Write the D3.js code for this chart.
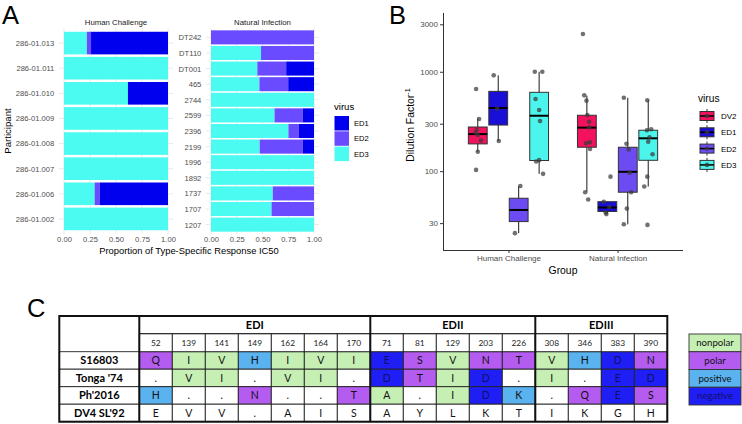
<!DOCTYPE html>
<html>
<head>
<meta charset="utf-8">
<script src="https://cdn.jsdelivr.net/npm/d3@7"></script>
<style>
body { margin: 0; background: #fff; }
text { font-family: "Liberation Sans", Arial, sans-serif; }
.tbl text { font-family: Lato, "Liberation Sans", sans-serif; }
</style>
</head>
<body>
<svg id="chart" width="742" height="424"></svg>
<script>
// ---- panel A data ----
const viruses = ['ED1', 'ED2', 'ED3'];
const hcNames = ['286-01.013', '286-01.011', '286-01.010', '286-01.009', '286-01.008', '286-01.007', '286-01.006', '286-01.002'];
const hcED3 = [0.22, 1, 0.615, 1, 1, 1, 0.295, 1];
const hcED2 = [0.04, 0, 0, 0, 0, 0, 0.048, 0];
const hcED1 = [0.74, 0, 0.385, 0, 0, 0, 0.657, 0];
const niNames = ['DT242', 'DT110', 'DT001', '465', '2744', '2599', '2396', '2199', '1996', '1892', '1737', '1707', '1207'];
const niED3 = [0, 0.486, 0.45, 0.47, 1, 0.617, 0.752, 0.473, 1, 1, 0.6, 0.588, 1];
const niED2 = [1, 0.514, 0.28, 0.28, 0, 0.273, 0.1, 0.417, 0, 0, 0.4, 0.412, 0];
const niED1 = [0, 0, 0.27, 0.25, 0, 0.11, 0.148, 0.11, 0, 0, 0, 0, 0];
const propTicks = [0, 0.25, 0.5, 0.75, 1];

// ---- panel B data ----
const groups = ['Human Challenge', 'Natural Infection'];
const bViruses = ['DV2', 'ED1', 'ED2', 'ED3'];
// one entry per group x virus, in order HC DV2..ED3, NI DV2..ED3
const boxLow = [157, 201, 23.8, 94, 62, 37, 29.2, 70];
const boxQ1 = [188, 291, 31.1, 128, 174, 39.3, 61.4, 128.6];
const boxMed = [236, 432, 40.7, 361, 274, 43.1, 98.5, 214];
const boxQ3 = [278, 635, 53.4, 621, 365, 49.3, 174, 258];
const boxHigh = [340, 920, 71, 1000, 574, 49.3, 548, 516];
const pointValues = [
  [670, 335, 261, 245, 231, 203, 157, 103],
  [920, 425, 201],
  [71, 23.8],
  [1000, 1000, 532, 412, 320, 129, 125, 94],
  [2395, 579, 512, 367, 314, 276, 195, 191, 167, 61.4, 51.8],
  [88, 49.3, 43.6, 38.3, 37],
  [548, 189, 165, 96.6, 61.4, 42, 29.2],
  [516, 264, 258, 219, 198, 148, 88, 70, 28.8]
];
// jitter, as a fraction of box width
const pointJitter = [
  [-0.09, 0.07, -0.05, -0.13, 0, 0.17, 0, -0.09],
  [-0.24, -0.06, 0.03],
  [0.09, -0.2],
  [-0.23, 0.17, -0.19, 0, 0.05, 0, -0.16, 0.21],
  [-0.21, -0.14, -0.02, 0.03, 0.12, 0.12, 0.16, -0.04, 0.17, -0.09, 0.07],
  [0.17, -0.19, 0.1, -0.09, -0.05],
  [-0.21, -0.07, 0.05, 0.1, 0.18, -0.05, -0.21],
  [-0.05, 0.16, -0.07, 0.07, 0, 0.23, -0.05, -0.21, -0.04]
];
const dilutionTicks = [30, 100, 300, 1000, 3000];

// ---- panel C data ----
const positions = ['52', '139', '141', '149', '162', '164', '170', '71', '81', '129', '203', '226', '308', '346', '383', '390'];
const domainNames = ['EDI', 'EDII', 'EDIII'];
const domainSpans = [7, 5, 4];
const strains = ['S16803', "Tonga '74", "Ph'2016", "DV4 SL'92"];
const resS16803 = ['Q', 'I', 'V', 'H', 'I', 'V', 'I', 'E', 'S', 'V', 'N', 'T', 'V', 'H', 'D', 'N'];
const resTonga = ['.', 'V', 'I', '.', 'V', 'I', '.', 'D', 'T', 'I', 'D', '.', 'I', '.', 'E', 'D'];
const resPh = ['H', '.', '.', 'N', '.', '.', 'T', 'A', '.', 'I', 'D', 'K', '.', 'Q', 'E', 'S'];
const resDV4 = ['E', 'V', 'V', '.', 'A', 'I', 'S', 'A', 'Y', 'L', 'K', 'T', 'I', 'K', 'G', 'H'];
const classes = ['nonpolar', 'polar', 'positive', 'negative'];
const classMembers = [['I', 'V', 'A', 'L'], ['Q', 'S', 'N', 'T'], ['H', 'K'], ['E', 'D']];

const svg = d3.select('#chart');

// panel letters
svg.selectAll('text.lab')
  .data([['A', 2, 23.5], ['B', 389, 23.5], ['C', 27, 317]])
  .enter().append('text')
  .attr('class', 'lab')
  .attr('x', d => d[1]).attr('y', d => d[2])
  .attr('font-size', 25.5)
  .text(d => d[0]);

// ================= A =================
const fillA = d3.scaleOrdinal().domain(viruses).range(['#0000EE', '#6A4BFF', '#4BFAF0']);

function facet(title, names, ed3, ed2, ed1, x0, x1) {
  const x = d3.scaleLinear().domain([-0.05, 1.05]).range([x0, x1]);
  const y = d3.scalePoint().domain(names).range([28, 234]).padding(0.6);
  const bh = y.step() * 0.9;
  const g = svg.append('g');

  g.selectAll('line.minor')
    .data(propTicks.slice(1).map(t => t - 0.125))
    .enter().append('line')
    .attr('x1', d => x(d)).attr('x2', d => x(d))
    .attr('y1', 28).attr('y2', 234)
    .attr('stroke', '#F2F2F2').attr('stroke-width', 0.5);
  g.selectAll('line.vmajor')
    .data(propTicks)
    .enter().append('line')
    .attr('x1', d => x(d)).attr('x2', d => x(d))
    .attr('y1', 28).attr('y2', 234)
    .attr('stroke', '#E6E6E6').attr('stroke-width', 0.9);
  g.selectAll('line.hmajor')
    .data(names)
    .enter().append('line')
    .attr('x1', x0).attr('x2', x1)
    .attr('y1', d => y(d)).attr('y2', d => y(d))
    .attr('stroke', '#E6E6E6').attr('stroke-width', 0.9);

  const rows = names.map((n, i) => ({ name: n, ED3: ed3[i], ED2: ed2[i], ED1: ed1[i] }));
  const layers = d3.stack().keys(['ED3', 'ED2', 'ED1'])(rows);
  g.selectAll('g.layer')
    .data(layers)
    .enter().append('g')
    .attr('fill', d => fillA(d.key))
    .selectAll('rect')
    .data(d => d.filter(s => s[1] > s[0]))
    .enter().append('rect')
    .attr('x', d => x(d[0]))
    .attr('width', d => x(d[1]) - x(d[0]))
    .attr('y', d => y(d.data.name) - bh / 2)
    .attr('height', bh);

  const ax = g.append('g')
    .attr('transform', 'translate(0,234)')
    .call(d3.axisBottom(x).tickValues(propTicks).tickFormat(d3.format('.2f')).tickSize(0).tickPadding(3));
  const ay = g.append('g')
    .attr('transform', `translate(${x0},0)`)
    .call(d3.axisLeft(y).tickSize(0).tickPadding(4.5));
  [ax, ay].forEach(a => {
    a.select('.domain').remove();
    a.selectAll('text').attr('font-size', 7.6).attr('fill', '#4D4D4D')
      .style('font-family', '"Liberation Sans", Arial, sans-serif');
  });

  g.append('text')
    .attr('x', (x(0) + x(1)) / 2).attr('y', 24.5)
    .attr('text-anchor', 'middle').attr('font-size', 7.8).attr('fill', '#1A1A1A')
    .text(title);
}

facet('Human Challenge', hcNames, hcED3, hcED2, hcED1, 58.8, 173.2);
facet('Natural Infection', niNames, niED3, niED2, niED1, 205.85, 319.15);

svg.append('text')
  .attr('x', 189).attr('y', 253.5)
  .attr('text-anchor', 'middle').attr('font-size', 9.4)
  .text('Proportion of Type-Specific Response IC50');
svg.append('text')
  .attr('transform', 'translate(11,131) rotate(-90)')
  .attr('text-anchor', 'middle').attr('font-size', 9.6)
  .text('Participant');

const legA = svg.append('g').attr('transform', 'translate(334,0)');
legA.append('text').attr('x', 0).attr('y', 110).attr('font-size', 9.6).text('virus');
legA.selectAll('rect')
  .data(viruses)
  .enter().append('rect')
  .attr('x', 0.5).attr('y', (d, i) => 116 + i * 15.3)
  .attr('width', 14.5).attr('height', 14.5)
  .attr('fill', d => fillA(d));
legA.selectAll('text.k')
  .data(viruses)
  .enter().append('text')
  .attr('class', 'k')
  .attr('x', 20).attr('y', (d, i) => 126 + i * 15.3)
  .attr('font-size', 7.6)
  .text(d => d);

// ================= B =================
const fillB = d3.scaleOrdinal().domain(bViruses).range(['#F2125E', '#1A0FD6', '#6C4BF2', '#4BF5EC']);
const xB = d3.scalePoint().domain(groups).range([443, 683]).padding(0.6);
const yB = d3.scaleLog().domain([16.1, 3900]).range([250, 13]);
const dodge = d3.scaleBand().domain(bViruses).range([-0.375 * xB.step(), 0.375 * xB.step()]);
const boxW = dodge.bandwidth() * 0.92;

const boxes = [];
groups.forEach((gname, gi) => bViruses.forEach((v, vi) => {
  const k = gi * bViruses.length + vi;
  boxes.push({
    group: gname, virus: v,
    cx: xB(gname) + dodge(v) + dodge.bandwidth() / 2,
    low: boxLow[k], q1: boxQ1[k], med: boxMed[k], q3: boxQ3[k], high: boxHigh[k],
    pts: pointValues[k].map((p, j) => ({ value: p, jit: pointJitter[k][j] }))
  });
}));

const gB = svg.append('g');
const bx = gB.selectAll('g.box').data(boxes).enter().append('g').attr('class', 'box');
bx.append('line')
  .attr('x1', d => d.cx).attr('x2', d => d.cx)
  .attr('y1', d => yB(d.high)).attr('y2', d => yB(d.low))
  .attr('stroke', '#1A1A1A').attr('stroke-width', 1);
bx.append('rect')
  .attr('x', d => d.cx - boxW / 2).attr('width', boxW)
  .attr('y', d => yB(d.q3)).attr('height', d => yB(d.q1) - yB(d.q3))
  .attr('fill', d => fillB(d.virus))
  .attr('stroke', '#333').attr('stroke-width', 1);
bx.append('line')
  .attr('x1', d => d.cx - boxW / 2).attr('x2', d => d.cx + boxW / 2)
  .attr('y1', d => yB(d.med)).attr('y2', d => yB(d.med))
  .attr('stroke', '#000').attr('stroke-width', 2);
bx.selectAll('circle')
  .data(d => d.pts.map(p => ({ cx: d.cx, value: p.value, jit: p.jit })))
  .enter().append('circle')
  .attr('cx', d => d.cx + d.jit * boxW)
  .attr('cy', d => yB(d.value))
  .attr('r', 2.3)
  .attr('fill', '#3A3A3A').attr('fill-opacity', 0.72);

const ayB = gB.append('g').attr('transform', 'translate(443,0)')
  .call(d3.axisLeft(yB).tickValues(dilutionTicks).tickFormat(d3.format('d')).tickSizeOuter(0).tickSize(3).tickPadding(2));
const axB = gB.append('g').attr('transform', 'translate(0,250)')
  .call(d3.axisBottom(xB).tickSizeOuter(0).tickSize(3).tickPadding(2));
[ayB, axB].forEach(a => {
  a.select('.domain').attr('stroke', '#333').attr('stroke-width', 1);
  a.selectAll('.tick line').attr('stroke', '#333');
  a.selectAll('text').attr('font-size', 8).attr('fill', '#4D4D4D')
    .style('font-family', '"Liberation Sans", Arial, sans-serif');
});
axB.select('.domain').attr('d', 'M443,0.5H683');
ayB.select('.domain').attr('d', 'M0.5,13V250');

svg.append('text')
  .attr('x', 563).attr('y', 274)
  .attr('text-anchor', 'middle').attr('font-size', 10.4)
  .text('Group');
const yt = svg.append('text')
  .attr('transform', 'translate(414,125) rotate(-90)')
  .attr('text-anchor', 'middle').attr('font-size', 10.4);
yt.append('tspan').text('Dilution Factor');
yt.append('tspan').attr('dy', -4).attr('font-size', 7.2).text('-1');

const legB = svg.append('g').attr('transform', 'translate(700,0)');
legB.append('text').attr('x', -2).attr('y', 102).attr('font-size', 10.2).text('virus');
const kB = legB.selectAll('g.k').data(bViruses).enter().append('g')
  .attr('class', 'k')
  .attr('transform', (d, i) => `translate(0,${116 + i * 16.3})`);
kB.append('line').attr('x1', 7).attr('x2', 7).attr('y1', -7).attr('y2', 7)
  .attr('stroke', '#333').attr('stroke-width', 1);
kB.append('rect').attr('x', 0).attr('y', -4.5).attr('width', 14).attr('height', 9)
  .attr('fill', d => fillB(d)).attr('stroke', '#333').attr('stroke-width', 1);
kB.append('line').attr('x1', 0).attr('x2', 14).attr('y1', 0).attr('y2', 0)
  .attr('stroke', '#000').attr('stroke-width', 1.5);
kB.append('circle').attr('cx', 7).attr('cy', 0).attr('r', 2.3)
  .attr('fill', '#3A3A3A').attr('fill-opacity', 0.72);
kB.append('text').attr('x', 21).attr('y', 3).attr('font-size', 8).text(d => d);

// ================= C =================
const classColor = d3.scaleOrdinal().domain(classes).range(['#C6EFB4', '#B45BF0', '#5AB2EE', '#1F1FF5']);
const classOf = r => {
  const i = classMembers.findIndex(m => m.includes(r));
  return i < 0 ? null : classes[i];
};
const residues = [resS16803, resTonga, resPh, resDV4];

const tbl = svg.append('g').attr('class', 'tbl');
const xC = d3.scaleBand().domain(d3.range(positions.length)).range([139.3, 667.3]);
const yC = d3.scaleBand().domain(strains).range([351.7, 421.7]);
const tTop = 316, tMid = 333.7;
const tLeft = 59.3, tRight = 667.3, tBottom = 421.7;

const cells = [];
strains.forEach((s, si) => residues[si].forEach((r, ci) => {
  cells.push({ strain: s, col: ci, res: r, cls: si < strains.length - 1 ? classOf(r) : null });
}));

tbl.selectAll('rect.cell').data(cells).enter().append('rect')
  .attr('x', d => xC(d.col)).attr('y', d => yC(d.strain))
  .attr('width', xC.bandwidth()).attr('height', yC.bandwidth())
  .attr('fill', d => d.cls ? classColor(d.cls) : '#fff')
  .attr('stroke', '#222').attr('stroke-width', 0.9);
tbl.selectAll('rect.pos').data(positions).enter().append('rect')
  .attr('x', (d, i) => xC(i)).attr('y', tMid)
  .attr('width', xC.bandwidth()).attr('height', yC(strains[0]) - tMid)
  .attr('fill', '#fff').attr('stroke', '#222').attr('stroke-width', 0.9);
tbl.selectAll('rect.row').data(strains).enter().append('rect')
  .attr('x', tLeft).attr('y', d => yC(d))
  .attr('width', xC(0) - tLeft).attr('height', yC.bandwidth())
  .attr('fill', '#fff').attr('stroke', '#222').attr('stroke-width', 0.9);

tbl.selectAll('text.res').data(cells).enter().append('text')
  .attr('x', d => xC(d.col) + xC.bandwidth() / 2)
  .attr('y', d => yC(d.strain) + yC.bandwidth() / 2 + 3.8)
  .attr('text-anchor', 'middle').attr('font-size', 10.5)
  .attr('fill', d => d.cls === 'negative' ? '#10106A' : '#111')
  .text(d => d.res);
tbl.selectAll('text.pos').data(positions).enter().append('text')
  .attr('x', (d, i) => xC(i) + xC.bandwidth() / 2)
  .attr('y', tMid + 12)
  .attr('text-anchor', 'middle').attr('font-size', 8.4).attr('fill', '#222')
  .text(d => d);
tbl.selectAll('text.strain').data(strains).enter().append('text')
  .attr('x', (tLeft + xC(0)) / 2)
  .attr('y', d => yC(d) + yC.bandwidth() / 2 + 4)
  .attr('text-anchor', 'middle').attr('font-size', 11).attr('font-weight', 'bold')
  .text(d => d);

let acc = 0;
const domainEdges = domainSpans.map(n => { const s = acc; acc += n; return [s, acc]; });
tbl.selectAll('text.dom').data(domainNames).enter().append('text')
  .attr('x', (d, i) => (xC(domainEdges[i][0]) + xC(domainEdges[i][1] - 1) + xC.bandwidth()) / 2)
  .attr('y', tTop + 12.6)
  .attr('text-anchor', 'middle').attr('font-size', 11).attr('font-weight', 'bold')
  .text(d => d);

tbl.append('line').attr('x1', xC(0)).attr('x2', tRight).attr('y1', tMid).attr('y2', tMid)
  .attr('stroke', '#222').attr('stroke-width', 0.9);
const thick = [xC(0)].concat(domainEdges.slice(0, -1).map(e => xC(e[1])));
tbl.selectAll('line.thick').data(thick).enter().append('line')
  .attr('x1', d => d).attr('x2', d => d).attr('y1', tTop).attr('y2', tBottom)
  .attr('stroke', '#111').attr('stroke-width', 2);
tbl.append('rect').attr('x', tLeft).attr('y', tTop)
  .attr('width', tRight - tLeft).attr('height', tBottom - tTop)
  .attr('fill', 'none').attr('stroke', '#111').attr('stroke-width', 2);

const legC = tbl.append('g');
const yL = d3.scaleBand().domain(classes).range([334, 405]);
legC.selectAll('rect').data(classes).enter().append('rect')
  .attr('x', 689).attr('y', d => yL(d))
  .attr('width', 52).attr('height', yL.bandwidth())
  .attr('fill', d => classColor(d)).attr('stroke', '#333').attr('stroke-width', 0.9);
legC.selectAll('text').data(classes).enter().append('text')
  .attr('x', 715).attr('y', d => yL(d) + yL.bandwidth() / 2 + 3.3)
  .attr('text-anchor', 'middle').attr('font-size', 9.6)
  .attr('fill', d => d === 'negative' ? '#10106A' : '#111')
  .text(d => d);
</script>
</body>
</html>
